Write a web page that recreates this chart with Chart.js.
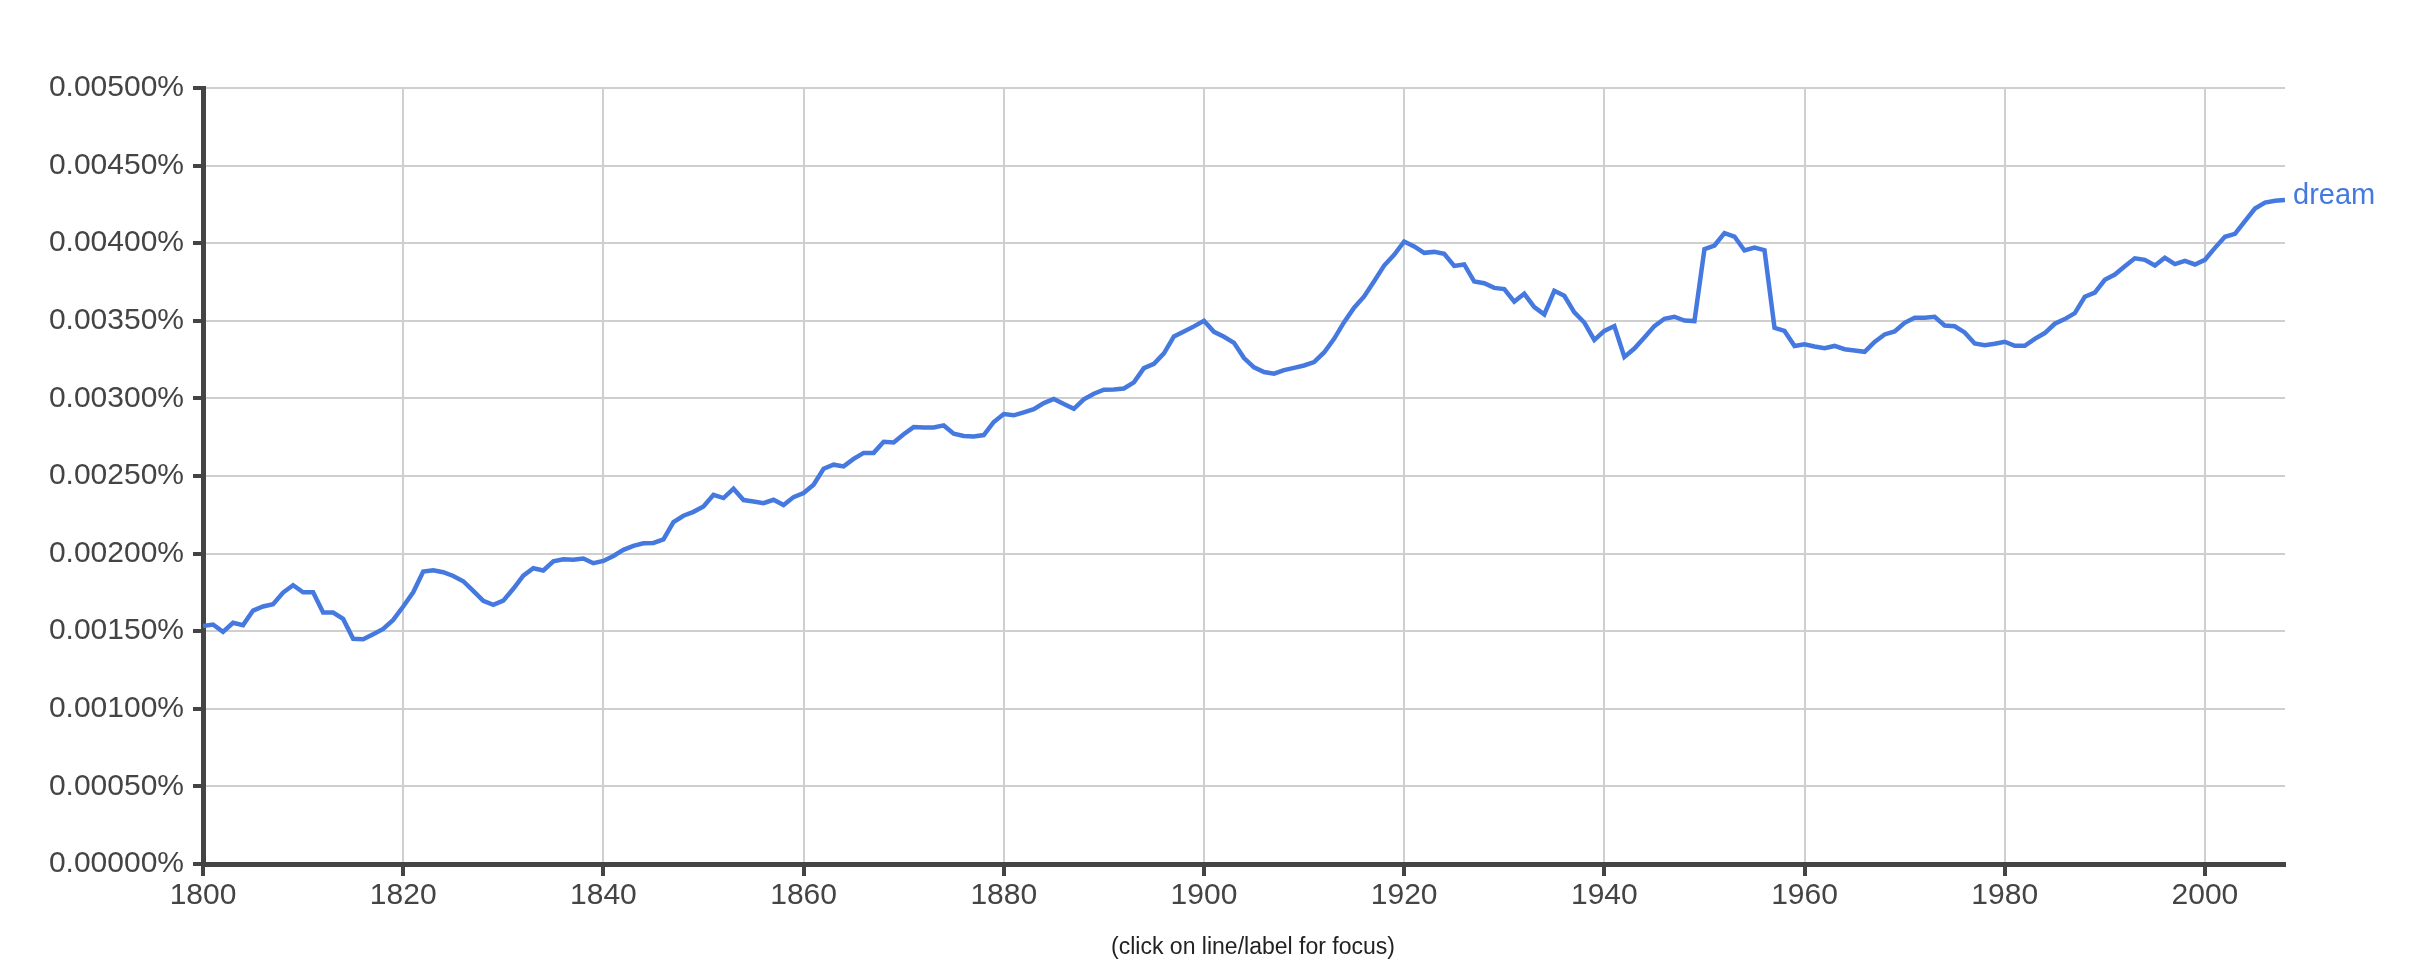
<!DOCTYPE html>
<html>
<head>
<meta charset="utf-8">
<title>dream</title>
<script src="https://cdn.jsdelivr.net/npm/chart.js@4.4.1/dist/chart.umd.min.js"></script>
<style>
    body { margin: 0; background: #fff; overflow: hidden; }
    #wrap { position: relative; width: 2420px; height: 960px; }
    #note {
        position: absolute; left: 0; width: 2506px; top: 933px;
        text-align: center; font: 23px "Liberation Sans", Arial, sans-serif; color: #222;
    }
</style>
</head>
<body>
<div id="wrap">
    <canvas id="ngramChart" width="2420" height="960"></canvas>
    <div id="note">(click on line/label for focus)</div>
</div>
<script>
const seriesName = 'dream';
const firstYear = 1800;

// percent of books per year, 1800 - 2008
const dreamValues = [
    0.001534, 0.001543, 0.001496, 0.001554, 0.001539, 0.001633, 0.001659, 0.001674, 0.001749, 0.001796,
    0.001751, 0.001751, 0.001620, 0.001620, 0.001579, 0.001451, 0.001448, 0.001481, 0.001515, 0.001573,
    0.001659, 0.001751, 0.001884, 0.001893, 0.001880, 0.001856, 0.001822, 0.001760, 0.001695, 0.001670,
    0.001697, 0.001773, 0.001858, 0.001906, 0.001891, 0.001950, 0.001963, 0.001961, 0.001968, 0.001938,
    0.001953, 0.001985, 0.002024, 0.002050, 0.002067, 0.002069, 0.002091, 0.002203, 0.002244, 0.002269,
    0.002304, 0.002379, 0.002358, 0.002418, 0.002345, 0.002336, 0.002325, 0.002347, 0.002313, 0.002364,
    0.002390, 0.002444, 0.002547, 0.002573, 0.002562, 0.002610, 0.002649, 0.002649, 0.002720, 0.002716,
    0.002769, 0.002815, 0.002813, 0.002813, 0.002826, 0.002773, 0.002758, 0.002755, 0.002764, 0.002848,
    0.002899, 0.002891, 0.002910, 0.002931, 0.002970, 0.002996, 0.002964, 0.002933, 0.002994, 0.003030,
    0.003056, 0.003058, 0.003064, 0.003103, 0.003195, 0.003223, 0.003290, 0.003399, 0.003431, 0.003464,
    0.003500, 0.003429, 0.003397, 0.003358, 0.003260, 0.003200, 0.003170, 0.003159, 0.003182, 0.003197,
    0.003212, 0.003234, 0.003296, 0.003384, 0.003491, 0.003584, 0.003657, 0.003755, 0.003856, 0.003925,
    0.004011, 0.003979, 0.003938, 0.003944, 0.003931, 0.003854, 0.003863, 0.003753, 0.003742, 0.003712,
    0.003704, 0.003624, 0.003674, 0.003588, 0.003541, 0.003693, 0.003661, 0.003554, 0.003489, 0.003377,
    0.003435, 0.003466, 0.003267, 0.003321, 0.003392, 0.003466, 0.003513, 0.003526, 0.003502, 0.003498,
    0.003961, 0.003985, 0.004065, 0.004043, 0.003953, 0.003972, 0.003955, 0.003455, 0.003435, 0.003338,
    0.003349, 0.003334, 0.003323, 0.003338, 0.003317, 0.003308, 0.003300, 0.003364, 0.003412, 0.003431,
    0.003487, 0.003519, 0.003519, 0.003526, 0.003470, 0.003465, 0.003425, 0.003354, 0.003343, 0.003352,
    0.003365, 0.003339, 0.003339, 0.003384, 0.003421, 0.003481, 0.003511, 0.003549, 0.003655, 0.003682,
    0.003764, 0.003798, 0.003852, 0.003903, 0.003893, 0.003856, 0.003906, 0.003865, 0.003886, 0.003863,
    0.003893, 0.003970, 0.004041, 0.004060, 0.004142, 0.004223, 0.004262, 0.004273, 0.004279
];

const yearTicks = [1800, 1820, 1840, 1860, 1880, 1900, 1920, 1940, 1960, 1980, 2000];
const percentTicks = [0, 0.0005, 0.001, 0.0015, 0.002, 0.0025, 0.003, 0.0035, 0.004, 0.0045, 0.005];

const years = dreamValues.map((_, i) => firstYear + i);
const points = years.map((yr, i) => ({ x: yr, y: dreamValues[i] }));

const lineColor = '#4579e0';
const axisColor = '#444444';
const gridColor = '#cfcfcf';
const fontFamily = '"Liberation Sans", Arial, Helvetica, sans-serif';

// name of the series written just after the end of the line
const endLabel = {
    id: 'endLabel',
    afterDatasetsDraw(chart) {
        const meta = chart.getDatasetMeta(0);
        const last = meta.data[meta.data.length - 1];
        if (!last) return;
        const ctx = chart.ctx;
        ctx.save();
        ctx.font = '29px ' + fontFamily;
        ctx.fillStyle = lineColor;
        ctx.textAlign = 'left';
        ctx.textBaseline = 'alphabetic';
        ctx.fillText(seriesName, last.x + 8, last.y + 4);
        ctx.restore();
    }
};

const ctx = document.getElementById('ngramChart').getContext('2d');
const chart = new Chart(ctx, {
    type: 'line',
    data: {
        datasets: [{
            label: seriesName,
            data: points,
            borderColor: lineColor,
            borderWidth: 4.5,
            pointRadius: 0,
            tension: 0,
            fill: false
        }]
    },
    options: {
        responsive: false,
        animation: false,
        devicePixelRatio: 1,
        layout: {
            padding: { left: 0, right: 135, top: 88, bottom: 46 }
        },
        plugins: {
            legend: { display: false },
            tooltip: { enabled: false }
        },
        scales: {
            x: {
                type: 'linear',
                min: 1800,
                max: 2008,
                afterBuildTicks: scale => { scale.ticks = yearTicks.map(v => ({ value: v })); },
                afterFit: scale => { scale.height = 50; },
                border: { color: axisColor, width: 5 },
                grid: {
                    color: gridColor,
                    lineWidth: 2,
                    drawTicks: true,
                    tickLength: 12,
                    tickColor: axisColor,
                    tickWidth: 4
                },
                ticks: {
                    padding: 2,
                    color: axisColor,
                    font: { family: fontFamily, size: 30 },
                    maxRotation: 0,
                    callback: v => String(v)
                }
            },
            y: {
                min: 0,
                max: 0.005,
                afterBuildTicks: scale => { scale.ticks = percentTicks.map(v => ({ value: v })); },
                afterFit: scale => { scale.width = 203; },
                border: { color: axisColor, width: 5 },
                grid: {
                    color: gridColor,
                    lineWidth: 2,
                    drawTicks: true,
                    tickLength: 10,
                    tickColor: axisColor,
                    tickWidth: 4
                },
                ticks: {
                    padding: 9,
                    color: axisColor,
                    font: { family: fontFamily, size: 30 },
                    callback: v => v.toFixed(5) + '%'
                }
            }
        }
    },
    plugins: [endLabel]
});
</script>
</body>
</html>
